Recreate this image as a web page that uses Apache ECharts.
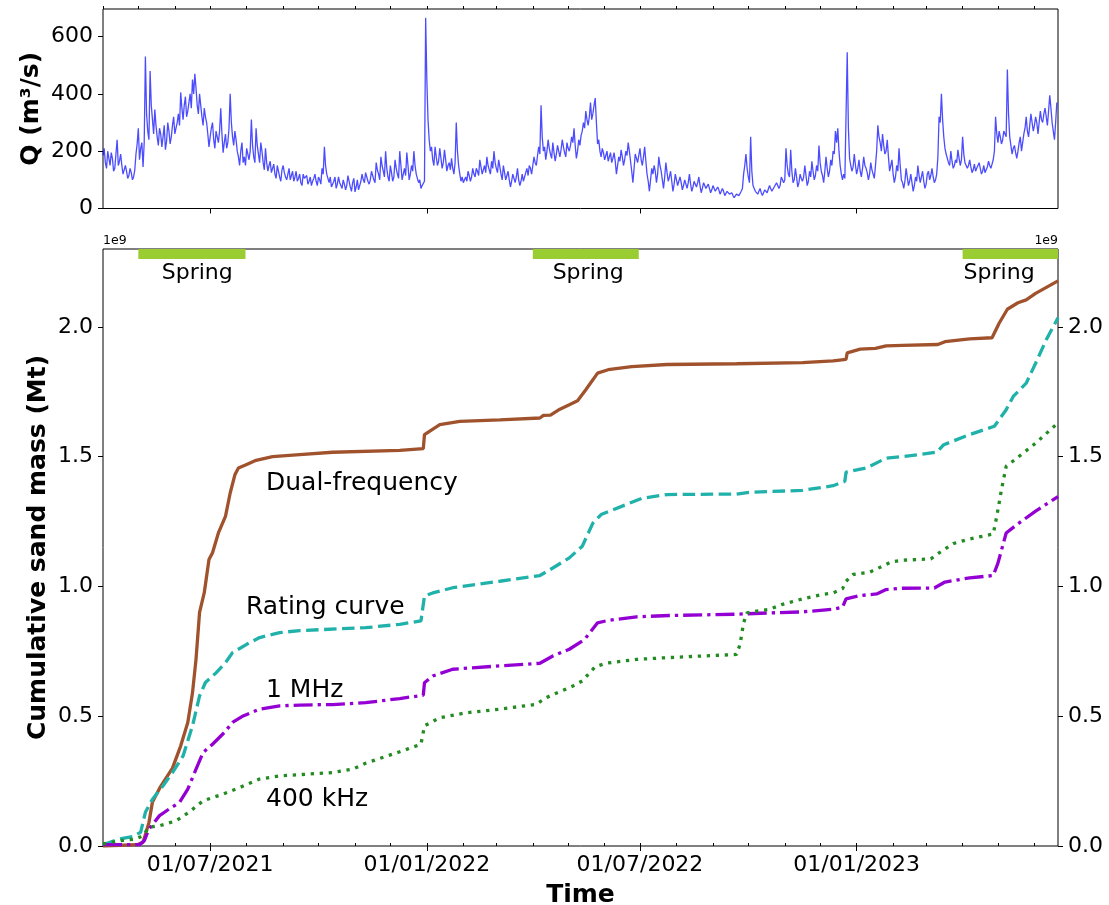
<!DOCTYPE html>
<html>
<head>
<meta charset="utf-8">
<script src="https://cdn.jsdelivr.net/npm/echarts@6/dist/echarts.min.js"></script>
<style>
  html, body { margin: 0; padding: 0; background: #fff; }
  #chart { width: 1109px; height: 905px; }
</style>
</head>
<body>
<div id="chart"></div>
<script>
// ---- Time range and ticks ----
const X_MIN = '2021-04-01';
const X_MAX = '2023-06-21';
const MAJOR_TICKS = ['2021-07-01', '2022-01-01', '2022-07-01', '2023-01-01'];
const Q_TICKS = [0, 200, 400, 600];
const MASS_TICKS = [0, 0.5, 1.0, 1.5, 2.0];

// ---- Daily discharge Q (m3/s) from 2021-04-01 ----
const Q_START = '2021-04-01';
const qValues = [
  185,210,160,140,200,175,150,195,175,130,140,190,240,150,165,190,150,120,135,150,
  130,105,115,140,125,100,110,135,190,225,280,170,210,230,145,230,530,330,270,240,
  480,360,310,260,345,290,250,220,280,260,215,250,290,205,235,300,270,225,250,290,
  320,260,280,300,330,290,405,350,310,360,390,320,340,370,400,350,450,400,470,420,
  360,330,400,360,320,290,350,320,300,260,215,250,280,300,240,210,270,250,230,270,
  350,260,195,230,260,210,230,280,400,300,250,220,270,240,200,180,150,200,230,160,
  180,150,210,190,170,200,310,220,180,160,280,220,190,160,230,200,160,135,210,160,
  130,150,165,125,140,155,120,105,150,130,110,95,135,150,125,110,100,120,140,100,
  115,130,95,110,130,95,105,120,90,80,120,105,100,115,85,95,110,80,95,105,
  120,95,80,110,100,85,140,120,215,150,120,105,90,110,75,85,95,110,70,85,
  110,90,80,70,100,85,65,80,115,95,75,60,90,105,58,75,100,65,80,95,
  120,100,90,125,110,95,85,100,130,115,100,90,160,135,120,100,180,150,130,110,
  200,140,110,95,150,125,95,110,170,140,120,105,200,150,100,120,140,115,195,150,
  100,120,150,130,200,150,120,105,90,100,70,80,85,95,665,450,
  310,240,200,215,170,150,215,180,150,165,210,175,140,160,205,170,130,150,160,135,
  175,140,120,160,300,200,150,120,95,110,90,100,110,95,130,115,95,110,140,120,
  110,140,130,115,170,145,120,135,150,125,180,150,135,120,165,140,200,160,140,125,
  170,145,120,100,150,125,100,115,130,100,75,95,120,105,90,110,140,100,80,95,
  120,95,100,125,140,115,150,140,120,150,180,160,150,185,215,190,
  360,250,
  200,215,170,200,240,210,190,175,230,195,165,190,220,200,180,205,240,215,195,180,
  230,210,200,220,250,230,280,220,175,200,240,220,255,270,300,280,340,310,290,320,
  370,310,330,360,385,300,225,240,200,180,210,195,170,185,200,165,180,195,160,175,
  195,165,120,150,180,165,205,180,150,170,200,185,230,200,165,130,90,140,190,175,
  160,185,210,170,150,180,215,165,120,95,60,100,140,120,150,130,90,120,180,150,
  130,100,70,110,160,125,95,110,130,95,60,85,120,100,80,95,110,90,65,80,
  100,85,70,90,120,85,60,75,95,85,75,90,110,80,55,70,90,80,70,65,
  85,70,55,65,80,70,60,55,75,65,50,55,70,60,45,50,60,55,50,45,
  55,45,38,42,50,55,45,50,60,70,120,150,190,140,110,90,250,130,80,70,
  60,55,50,60,70,55,45,50,65,70,55,60,80,70,60,65,75,70,90,80,
  70,80,110,100,90,100,210,150,120,110,205,130,90,100,140,110,75,90,120,105,
  95,110,150,115,80,95,130,110,165,130,100,115,150,130,220,160,130,115,90,130,
  180,140,110,130,170,150,200,190,270,230,280,200,150,120,100,120,105,100,545,280,
  175,150,130,145,190,150,120,140,170,130,110,140,180,150,140,125,100,120,160,135,
  120,105,150,200,290,250,230,200,260,220,190,200,240,180,130,150,170,120,90,110,
  150,130,210,150,100,90,70,95,140,110,80,95,120,90,60,80,110,95,150,115,
  90,110,130,95,70,85,120,130,100,115,140,110,90,100,120,180,320,300,400,310,
  250,210,190,175,160,150,200,165,140,150,170,160,205,175,150,170,250,190,160,150,
  140,150,170,145,125,135,155,130,140,150,160,140,120,130,150,125,135,145,165,150,
  140,155,170,200,320,260,230,270,250,225,240,270,260,250,485,330,250,220,190,210,
  220,195,175,200,230,250,200,230,260,280,320,270,250,290,330,300,270,290,320,300,
  260,300,340,310,300,330,350,320,290,340,395,350,300,270,240,300,370
];

// ---- Cumulative sand mass (x 1e9) ----
const dualDates = ['2021-04-01','2021-04-30','2021-05-05','2021-05-10','2021-05-13','2021-05-20','2021-05-30','2021-06-06','2021-06-12','2021-06-16','2021-06-19','2021-06-22','2021-06-26','2021-06-30','2021-07-03','2021-07-08','2021-07-14','2021-07-18','2021-07-22','2021-07-25','2021-08-01','2021-08-09','2021-08-23','2021-09-15','2021-10-13','2021-12-09','2021-12-29','2021-12-30','2022-01-12','2022-01-29','2022-03-04','2022-04-07','2022-04-10','2022-04-16','2022-04-24','2022-05-02','2022-05-09','2022-05-16','2022-05-22','2022-05-26','2022-06-04','2022-06-24','2022-07-24','2022-09-21','2022-11-16','2022-12-12','2022-12-23','2022-12-24','2023-01-04','2023-01-17','2023-01-26','2023-02-09','2023-03-11','2023-03-17','2023-04-07','2023-04-26','2023-05-02','2023-05-09','2023-05-18','2023-05-25','2023-06-02','2023-06-21'];
const dualMass = [0,0.005,0.014,0.09,0.17,0.23,0.30,0.386,0.476,0.59,0.72,0.90,0.976,1.104,1.13,1.206,1.27,1.36,1.43,1.456,1.47,1.486,1.50,1.508,1.517,1.524,1.531,1.585,1.623,1.636,1.642,1.649,1.659,1.66,1.683,1.70,1.715,1.758,1.796,1.822,1.835,1.847,1.855,1.858,1.862,1.869,1.875,1.90,1.914,1.917,1.927,1.929,1.932,1.943,1.954,1.958,2.014,2.068,2.093,2.104,2.129,2.177];

const ratingDates = ['2021-04-01','2021-04-15','2021-04-26','2021-05-03','2021-05-07','2021-05-13','2021-05-22','2021-05-30','2021-06-08','2021-06-16','2021-06-22','2021-06-27','2021-07-06','2021-07-14','2021-07-20','2021-08-01','2021-08-12','2021-08-29','2021-09-15','2021-11-10','2021-12-09','2021-12-27','2021-12-30','2022-01-06','2022-01-23','2022-03-04','2022-04-07','2022-04-18','2022-05-02','2022-05-13','2022-05-22','2022-05-29','2022-06-19','2022-07-03','2022-07-24','2022-09-21','2022-10-02','2022-11-16','2022-12-12','2022-12-22','2022-12-23','2023-01-09','2023-01-26','2023-02-09','2023-03-10','2023-03-16','2023-04-07','2023-04-28','2023-05-08','2023-05-14','2023-05-25','2023-06-02','2023-06-11','2023-06-21'];
const ratingMass = [0.005,0.027,0.036,0.053,0.13,0.18,0.232,0.283,0.347,0.463,0.578,0.63,0.667,0.706,0.745,0.777,0.803,0.822,0.83,0.841,0.854,0.867,0.963,0.975,0.995,1.02,1.042,1.071,1.11,1.155,1.244,1.277,1.315,1.34,1.354,1.356,1.363,1.37,1.388,1.405,1.44,1.456,1.494,1.50,1.517,1.546,1.585,1.617,1.681,1.732,1.783,1.86,1.95,2.035];

const mhzDates = ['2021-04-01','2021-05-02','2021-05-06','2021-05-10','2021-05-19','2021-05-27','2021-06-05','2021-06-12','2021-06-19','2021-06-25','2021-07-03','2021-07-13','2021-07-20','2021-07-29','2021-08-12','2021-08-29','2021-09-15','2021-10-13','2021-11-10','2021-12-09','2021-12-29','2021-12-30','2022-01-06','2022-01-23','2022-03-04','2022-04-07','2022-04-18','2022-05-02','2022-05-15','2022-05-26','2022-06-04','2022-06-28','2022-07-26','2022-09-21','2022-10-19','2022-11-16','2022-12-12','2022-12-20','2022-12-23','2023-01-04','2023-01-18','2023-01-26','2023-02-09','2023-03-08','2023-03-17','2023-04-07','2023-04-27','2023-05-01','2023-05-08','2023-05-17','2023-06-02','2023-06-21'];
const mhzMass = [0.005,0.005,0.02,0.065,0.117,0.142,0.168,0.219,0.296,0.36,0.392,0.437,0.476,0.501,0.527,0.54,0.543,0.545,0.552,0.568,0.581,0.629,0.655,0.681,0.694,0.704,0.732,0.758,0.796,0.86,0.869,0.883,0.888,0.893,0.898,0.902,0.912,0.92,0.952,0.965,0.971,0.988,0.993,0.994,1.017,1.033,1.042,1.09,1.206,1.238,1.29,1.346];

const khzDates = ['2021-04-01','2021-04-15','2021-04-29','2021-05-05','2021-05-10','2021-05-19','2021-06-02','2021-06-13','2021-06-25','2021-07-12','2021-07-26','2021-08-12','2021-08-29','2021-09-15','2021-10-13','2021-10-30','2021-11-10','2021-12-09','2021-12-27','2021-12-30','2022-01-12','2022-02-03','2022-03-04','2022-04-04','2022-04-12','2022-05-05','2022-05-13','2022-05-24','2022-06-02','2022-06-28','2022-07-26','2022-08-23','2022-09-21','2022-09-24','2022-09-27','2022-09-30','2022-10-08','2022-10-19','2022-10-30','2022-11-16','2022-12-03','2022-12-12','2022-12-20','2022-12-23','2022-12-29','2023-01-12','2023-01-23','2023-01-30','2023-02-09','2023-03-05','2023-03-12','2023-03-24','2023-04-07','2023-04-27','2023-04-30','2023-05-04','2023-05-08','2023-05-17','2023-06-02','2023-06-21'];
const khzMass = [0.008,0.02,0.027,0.04,0.072,0.078,0.097,0.13,0.174,0.2,0.225,0.258,0.27,0.275,0.283,0.296,0.319,0.363,0.392,0.463,0.494,0.513,0.527,0.546,0.571,0.616,0.636,0.691,0.704,0.719,0.726,0.732,0.738,0.777,0.86,0.898,0.905,0.912,0.931,0.952,0.969,0.975,0.991,1.02,1.046,1.055,1.078,1.094,1.101,1.106,1.129,1.165,1.183,1.202,1.27,1.373,1.463,1.494,1.552,1.63];

// ---- Spring periods ----
const springStart = ['2021-05-01', '2022-04-01', '2023-04-01'];
const springEnd   = ['2021-07-31', '2022-06-30', '2023-06-30'];
const springLabelDates = ['2021-06-20', '2022-05-18', '2023-05-02'];
const springLabelMass  = [2.206, 2.206, 2.206];

// ---- Curve labels ----
const curveLabels     = ['Dual-frequency', 'Rating curve', '1 MHz', '400 kHz'];
const curveLabelDates = ['2021-08-17', '2021-07-31', '2021-08-17', '2021-08-17'];
const curveLabelMass  = [1.398, 0.918, 0.601, 0.178];

// ---- Helpers ----
const FONT = 'DejaVu Sans';
const parseDay = s => { const p = s.split('-').map(Number); return new Date(p[0], p[1] - 1, p[2]).getTime(); };
const xMin = parseDay(X_MIN);
const xMax = parseDay(X_MAX);
const zip = (dates, vals) => dates.slice(0, Math.min(dates.length, vals.length)).map((d, i) => [parseDay(d), vals[i]]);
const pad2 = n => String(n).padStart(2, '0');
const fmtDate = v => { const d = new Date(v); return pad2(d.getDate()) + '/' + pad2(d.getMonth() + 1) + '/' + d.getFullYear(); };

const majorTicks = MAJOR_TICKS.map(parseDay);
const monthTicks = [];
{
  const s = new Date(xMin);
  let y = s.getFullYear(), m = s.getMonth();
  while (true) {
    const t = new Date(y, m, 1).getTime();
    if (t > xMax) break;
    if (t >= xMin) monthTicks.push(t);
    m++; if (m > 11) { m = 0; y++; }
  }
}

const qStart = new Date(parseDay(Q_START));
const qData = qValues.map((v, i) => {
  const d = new Date(qStart); d.setDate(d.getDate() + i);
  return [d.getTime(), v];
});

const tickFont = { fontSize: 22, fontFamily: FONT, color: '#000' };
const titleFont = { fontSize: 25, fontWeight: 'bold', fontFamily: FONT, color: '#000' };

// Date axes are value axes over millisecond timestamps, with explicit tick positions
function dateAxes(gridIndex, withLabels) {
  const major = {
    type: 'value', gridIndex, min: xMin, max: xMax, scale: true,
    axisLine: { show: false }, splitLine: { show: false },
    axisTick: { show: true, length: 5, customValues: majorTicks, lineStyle: { color: '#000', width: 1 } },
    axisLabel: Object.assign({ show: withLabels, customValues: majorTicks, formatter: fmtDate, margin: 8, hideOverlap: false }, tickFont)
  };
  if (withLabels) {
    major.name = 'Time';
    major.nameLocation = 'middle';
    major.nameGap = 37;
    major.nameMoveOverlap = false;
    major.nameTextStyle = titleFont;
  }
  const minor = {
    type: 'value', gridIndex, min: xMin, max: xMax, scale: true,
    axisLine: { show: false }, splitLine: { show: false },
    axisTick: { show: true, length: 3, customValues: monthTicks, lineStyle: { color: '#000', width: 1 } },
    axisLabel: { show: false }
  };
  return [major, minor];
}

function massAxis(position, withName) {
  const ax = {
    type: 'value', gridIndex: 1, position, min: 0, max: 2.3,
    axisLine: { show: false }, splitLine: { show: false },
    axisTick: { show: true, length: 5, customValues: MASS_TICKS, lineStyle: { color: '#000', width: 1 } },
    axisLabel: Object.assign({ customValues: MASS_TICKS, formatter: v => v.toFixed(1), margin: 10 }, tickFont)
  };
  if (withName) {
    ax.name = 'Cumulative sand mass (Mt)';
    ax.nameLocation = 'middle';
    ax.nameGap = 52;
    ax.nameMoveOverlap = false;
    ax.nameTextStyle = titleFont;
  }
  return ax;
}

const BAND = [2.2615, 2.3];
const springAreas = springStart.map((s, i) => [
  { xAxis: parseDay(s), yAxis: BAND[0] },
  { xAxis: Math.min(parseDay(springEnd[i]), xMax), yAxis: BAND[1] }
]);

const lineBase = { type: 'line', xAxisIndex: 2, yAxisIndex: 1, showSymbol: false, symbol: 'none', silent: true, clip: true };
const textScatter = { type: 'scatter', xAxisIndex: 2, yAxisIndex: 1, silent: true, symbolSize: 1, itemStyle: { color: 'transparent', opacity: 1 } };

const gridBase = { left: 103, right: 51, show: true, borderColor: '#000', borderWidth: 1, backgroundColor: 'transparent', containLabel: false, outerBoundsMode: 'none' };

const option = {
  animation: false,
  backgroundColor: '#fff',
  grid: [
    Object.assign({ top: 9, bottom: 696.5 }, gridBase),
    Object.assign({ top: 249, bottom: 59 }, gridBase)
  ],
  xAxis: [...dateAxes(0, false), ...dateAxes(1, true)],
  yAxis: [
    {
      type: 'value', gridIndex: 0, min: 0, max: 696,
      axisLine: { show: false }, splitLine: { show: false },
      axisTick: { show: true, length: 5, customValues: Q_TICKS, lineStyle: { color: '#000', width: 1 } },
      axisLabel: Object.assign({ customValues: Q_TICKS, margin: 10 }, tickFont),
      name: 'Q (m³/s)', nameLocation: 'middle', nameGap: 59, nameMoveOverlap: false, nameTextStyle: titleFont
    },
    massAxis('left', true),
    massAxis('right', false)
  ],
  graphic: [
    { type: 'text', left: 103, top: 234, style: { text: '1e9', font: '12.5px "DejaVu Sans"', fill: '#000' } },
    { type: 'text', right: 51, top: 234, style: { text: '1e9', font: '12.5px "DejaVu Sans"', fill: '#000' } }
  ],
  series: [
    {
      name: 'Q', type: 'line', xAxisIndex: 0, yAxisIndex: 0, data: qData,
      showSymbol: false, symbol: 'none', silent: true, clip: true,
      lineStyle: { color: 'rgba(0,0,255,0.7)', width: 1.3 }
    },
    Object.assign({}, lineBase, {
      name: 'Dual-frequency', data: zip(dualDates, dualMass),
      lineStyle: { color: '#a0522d', width: 3.3 },
      markArea: { silent: true, itemStyle: { color: '#9acd32', borderWidth: 0 }, data: springAreas }
    }),
    Object.assign({}, lineBase, {
      name: 'Rating curve', data: zip(ratingDates, ratingMass),
      lineStyle: { color: '#20b2aa', width: 3.3, type: [12.5, 5.5] }
    }),
    Object.assign({}, lineBase, {
      name: '1 MHz', data: zip(mhzDates, mhzMass),
      lineStyle: { color: '#9400d3', width: 3.3, type: [19, 5, 3.3, 5] }
    }),
    Object.assign({}, lineBase, {
      name: '400 kHz', data: zip(khzDates, khzMass),
      lineStyle: { color: '#228b22', width: 3.3, type: [3.3, 5.7] }
    }),
    Object.assign({}, textScatter, {
      name: 'curve labels',
      data: curveLabels.map((t, i) => ({ name: t, value: [parseDay(curveLabelDates[i]), curveLabelMass[i]] })),
      label: { show: true, formatter: '{b}', position: 'right', distance: 0, fontSize: 25, fontFamily: FONT, color: '#000' }
    }),
    Object.assign({}, textScatter, {
      name: 'spring labels',
      data: springLabelDates.map((d, i) => ({ name: 'Spring', value: [parseDay(d), springLabelMass[i]] })),
      label: { show: true, formatter: '{b}', position: 'inside', fontSize: 22, fontFamily: FONT, color: '#000' }
    })
  ]
};

const chart = echarts.init(document.getElementById('chart'), null, { renderer: 'canvas' });
chart.setOption(option);
</script>
</body>
</html>
